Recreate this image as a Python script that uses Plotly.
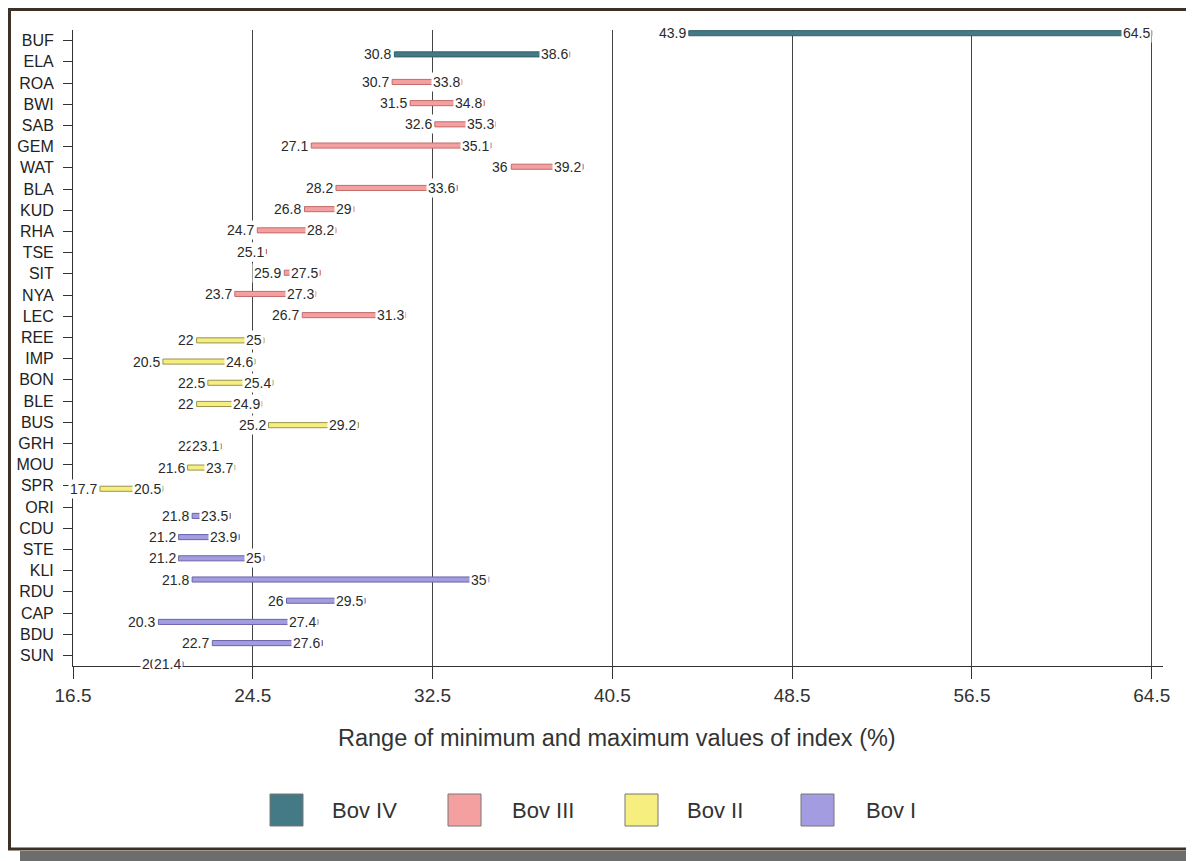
import plotly.graph_objects as go

# ---------------- data ----------------
categories = ["BUF", "ELA", "ROA", "BWI", "SAB", "GEM", "WAT", "BLA", "KUD", "RHA",
              "TSE", "SIT", "NYA", "LEC", "REE", "IMP", "BON", "BLE", "BUS", "GRH",
              "MOU", "SPR", "ORI", "CDU", "STE", "KLI", "RDU", "CAP", "BDU", "SUN"]
min_values = [43.9, 30.8, 30.7, 31.5, 32.6, 27.1, 36, 28.2, 26.8, 24.7,
              25.1, 25.9, 23.7, 26.7, 22, 20.5, 22.5, 22, 25.2, 22,
              21.6, 17.7, 21.8, 21.2, 21.2, 21.8, 26, 20.3, 22.7, 20.9]
max_values = [64.5, 38.6, 33.8, 34.8, 35.3, 35.1, 39.2, 33.6, 29, 28.2,
              25.1, 27.5, 27.3, 31.3, 25, 24.6, 25.4, 24.9, 29.2, 23.1,
              23.7, 20.5, 23.5, 23.9, 25, 35, 29.5, 27.4, 27.6, 21.4]
groups = ["Bov IV", "Bov IV",
          "Bov III", "Bov III", "Bov III", "Bov III", "Bov III", "Bov III", "Bov III", "Bov III",
          "Bov III", "Bov III", "Bov III", "Bov III",
          "Bov II", "Bov II", "Bov II", "Bov II", "Bov II", "Bov II", "Bov II", "Bov II",
          "Bov I", "Bov I", "Bov I", "Bov I", "Bov I", "Bov I", "Bov I", "Bov I"]
series_names = ["Bov IV", "Bov III", "Bov II", "Bov I"]
x_tick_values = [16.5, 24.5, 32.5, 40.5, 48.5, 56.5, 64.5]
x_title = "Range of minimum and maximum values of index (%)"

# ---------------- style ----------------
fill_colors = {"Bov IV": "#437a86", "Bov III": "#f4a0a0", "Bov II": "#f6ee7e", "Bov I": "#a39ce0"}
line_colors = {"Bov IV": "#34606a", "Bov III": "#c46a6a", "Bov II": "#9a9450", "Bov I": "#6a64a8"}
center_offset = {"Bov IV": -0.35, "Bov III": -0.05, "Bov II": 0.14, "Bov I": 0.42}
bar_w = 0.24

OFF = 8                      # page body margin
W, H = 1194 - OFF, 861 - OFF
L, T = 73 - OFF, 30 - OFF
R = W - (1163 - OFF)
B = H - (666 - OFF)
PW, PH = W - L - R, H - T - B

def fx(px):                  # px in page coordinates
    return (px - OFF - L) / PW

def fy(py):
    return (H - B - (py - OFF)) / PH

FONT = "Liberation Sans, Arial, sans-serif"

fig = go.Figure()

for s in series_names:
    idx = [i for i, g in enumerate(groups) if g == s]
    fig.add_trace(go.Bar(
        orientation="h",
        y=idx,
        base=[min_values[i] for i in idx],
        x=[max_values[i] - min_values[i] for i in idx],
        width=bar_w,
        offset=center_offset[s] - bar_w / 2,
        marker=dict(color=fill_colors[s], line=dict(color=line_colors[s], width=1)),
        name=s,
        showlegend=False,
        hoverinfo="skip",
    ))

def fmt(v):
    return ("%g" % v)

annotations = []
# min labels first
for i, c in enumerate(categories):
    yc = i + center_offset[groups[i]]
    annotations.append(dict(x=min_values[i], y=yc, xref="x", yref="y", text=fmt(min_values[i]),
                            showarrow=False, xanchor="right", yanchor="middle", xshift=-1,
                            bgcolor="white", borderpad=1,
                            font=dict(family=FONT, size=14, color="#2a2a2a")))
# max labels (drawn over the bar end)
for i, c in enumerate(categories):
    yc = i + center_offset[groups[i]]
    annotations.append(dict(x=max_values[i], y=yc, xref="x", yref="y", text=fmt(max_values[i]),
                            showarrow=False, xanchor="right", yanchor="middle", xshift=0,
                            bgcolor="white", borderpad=1,
                            font=dict(family=FONT, size=14, color="#2a2a2a")))

# axis title
annotations.append(dict(x=fx(617), y=fy(738), xref="paper", yref="paper", text=x_title,
                        showarrow=False, xanchor="center", yanchor="middle",
                        font=dict(family=FONT, size=23.5, color="#333333")))

# custom legend
shapes = []
legend_sq_x = [270, 448, 625, 801]
legend_tx_x = [330, 510, 685, 864]
for k, s in enumerate(series_names):
    shapes.append(dict(type="rect", xref="paper", yref="paper",
                       x0=fx(legend_sq_x[k]), x1=fx(legend_sq_x[k] + 33),
                       y0=fy(794), y1=fy(826),
                       fillcolor=fill_colors[s], line=dict(color="#777777", width=1)))
    annotations.append(dict(x=fx(legend_tx_x[k]), y=fy(810), xref="paper", yref="paper", text=s,
                            showarrow=False, xanchor="left", yanchor="middle",
                            font=dict(family=FONT, size=22, color="#333333")))

# frame + shadow
shapes.append(dict(type="rect", xref="paper", yref="paper", layer="below",
                   x0=fx(20), x1=fx(1194), y0=fy(851), y1=fy(861),
                   fillcolor="#6d6d6d", line=dict(width=0)))
shapes.append(dict(type="rect", xref="paper", yref="paper", layer="below",
                   x0=fx(1191), x1=fx(1194), y0=fy(20), y1=fy(861),
                   fillcolor="#6d6d6d", line=dict(width=0)))
shapes.append(dict(type="rect", xref="paper", yref="paper",
                   x0=fx(9.5), x1=fx(1189), y0=fy(9.5), y1=fy(849),
                   fillcolor="rgba(0,0,0,0)", line=dict(color="#3d3024", width=3)))

fig.update_layout(
    width=W, height=H,
    margin=dict(l=L, r=R, t=T, b=B, pad=0, autoexpand=False),
    paper_bgcolor="white", plot_bgcolor="white",
    barmode="overlay",
    showlegend=False,
    annotations=annotations,
    shapes=shapes,
)
fig.update_xaxes(
    range=[16.5, 65], tickvals=x_tick_values, ticktext=["%.1f" % v for v in x_tick_values],
    showgrid=True, gridcolor="#444444", gridwidth=1,
    showline=True, linecolor="#333333", linewidth=1,
    ticks="outside", ticklen=12, tickcolor="#333333",
    tickfont=dict(family=FONT, size=19, color="#333333"),
    zeroline=False, automargin=False,
)
fig.update_yaxes(
    range=[29.5, -0.5], tickvals=list(range(len(categories))), ticktext=categories,
    showgrid=False, showline=True, linecolor="#333333", linewidth=1,
    ticks="outside", ticklen=9, tickcolor="#333333",
    ticklabelstandoff=6,
    tickfont=dict(family=FONT, size=16, color="#222222"),
    zeroline=False, automargin=False,
)

fig.write_html("out.html")
